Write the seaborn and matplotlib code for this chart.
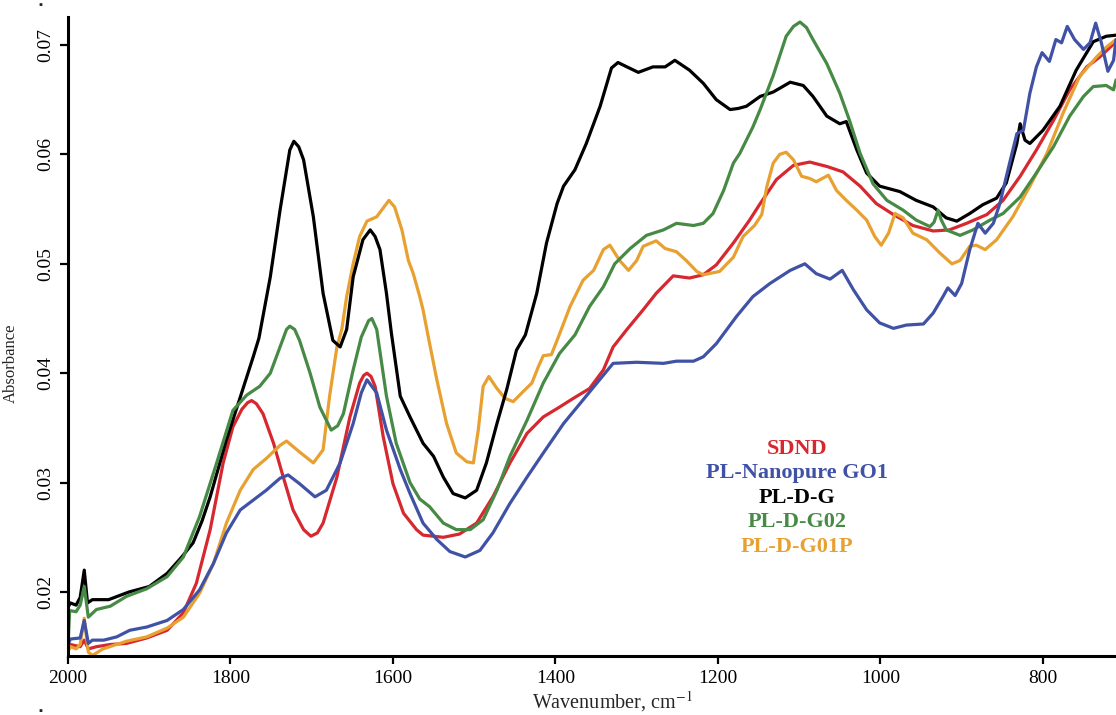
import matplotlib
matplotlib.use("Agg")
import matplotlib.pyplot as plt
import seaborn as sns
import pandas as pd

# ---- data (wavenumber cm^-1, absorbance) ----
SDND = [(2000, 0.0150), (1997, 0.0152), (1985, 0.0150), (1980, 0.0156), (1975, 0.0148),
        (1965, 0.0150), (1948, 0.0152), (1928, 0.0153), (1903, 0.0158), (1878, 0.0165),
        (1858, 0.0181), (1842, 0.0208), (1825, 0.0257), (1809, 0.0318), (1797, 0.0351),
        (1786, 0.0367), (1779, 0.0373), (1774, 0.0375), (1768, 0.0372), (1760, 0.0363),
        (1747, 0.0336), (1735, 0.0305), (1723, 0.0275), (1710, 0.0257), (1701, 0.0251),
        (1693, 0.0254), (1686, 0.0263), (1669, 0.0305), (1653, 0.0360), (1641, 0.0391),
        (1636, 0.0398), (1632, 0.0400), (1627, 0.0397), (1622, 0.0388), (1612, 0.0342),
        (1600, 0.0299), (1587, 0.0272), (1571, 0.0257), (1563, 0.0252), (1538, 0.0250),
        (1518, 0.0253), (1497, 0.0263), (1477, 0.0287), (1456, 0.0318), (1435, 0.0345),
        (1415, 0.0360), (1395, 0.0369), (1378, 0.0377), (1358, 0.0386), (1341, 0.0403),
        (1329, 0.0424), (1312, 0.0440), (1292, 0.0458), (1276, 0.0473), (1255, 0.0489),
        (1235, 0.0487), (1218, 0.0490), (1202, 0.0499), (1181, 0.0519), (1161, 0.0540),
        (1148, 0.0555), (1128, 0.0577), (1107, 0.0590), (1087, 0.0593), (1066, 0.0589),
        (1046, 0.0584), (1025, 0.0571), (1005, 0.0555), (984, 0.0545), (960, 0.0535),
        (935, 0.0530), (915, 0.0531), (894, 0.0537), (869, 0.0545), (849, 0.0558),
        (828, 0.0580), (808, 0.0604), (787, 0.0631), (767, 0.0659), (746, 0.0680),
        (730, 0.0689), (710, 0.0703)]

NANOPURE_GO1 = [(2000, 0.0152), (1997, 0.0157), (1985, 0.0158), (1980, 0.0174), (1975, 0.0153),
                (1970, 0.0156), (1956, 0.0156), (1940, 0.0159), (1924, 0.0165), (1903, 0.0168),
                (1878, 0.0174), (1858, 0.0184), (1838, 0.0202), (1821, 0.0226), (1805, 0.0254),
                (1788, 0.0275), (1772, 0.0284), (1756, 0.0293), (1739, 0.0304), (1729, 0.0307),
                (1715, 0.0299), (1696, 0.0287), (1682, 0.0293), (1665, 0.0318), (1649, 0.0354),
                (1639, 0.0382), (1632, 0.0394), (1620, 0.0382), (1608, 0.0348), (1591, 0.0312),
                (1579, 0.0290), (1563, 0.0263), (1546, 0.0248), (1530, 0.0237), (1511, 0.0232),
                (1493, 0.0238), (1477, 0.0254), (1456, 0.0281), (1435, 0.0305), (1415, 0.0327),
                (1390, 0.0354), (1370, 0.0372), (1349, 0.0391), (1329, 0.0409), (1300, 0.0410),
                (1267, 0.0409), (1251, 0.0411), (1230, 0.0411), (1218, 0.0415), (1202, 0.0427),
                (1189, 0.0440), (1177, 0.0452), (1157, 0.0470), (1136, 0.0482), (1111, 0.0494),
                (1093, 0.0500), (1079, 0.0491), (1062, 0.0486), (1047, 0.0494), (1033, 0.0476),
                (1017, 0.0458), (1001, 0.0446), (984, 0.0441), (968, 0.0444), (947, 0.0445),
                (935, 0.0455), (923, 0.0470), (917, 0.0478), (908, 0.0471), (900, 0.0482),
                (890, 0.0513), (880, 0.0537), (871, 0.0528), (861, 0.0537), (853, 0.0555),
                (841, 0.0592), (832, 0.0619), (824, 0.0622), (816, 0.0656), (808, 0.0680),
                (801, 0.0693), (792, 0.0685), (784, 0.0705), (777, 0.0702), (770, 0.0717),
                (761, 0.0705), (750, 0.0696), (742, 0.0702), (735, 0.0720), (728, 0.0702),
                (720, 0.0676), (713, 0.0686), (710, 0.0705)]

PL_D_G = [(2000, 0.0186), (1997, 0.0190), (1990, 0.0188), (1985, 0.0195), (1980, 0.0220),
          (1976, 0.0190), (1970, 0.0193), (1950, 0.0193), (1925, 0.0200), (1900, 0.0205),
          (1878, 0.0217), (1860, 0.0232), (1846, 0.0245), (1835, 0.0265), (1825, 0.0287),
          (1805, 0.0339), (1788, 0.0378), (1772, 0.0415), (1765, 0.0432), (1751, 0.0488),
          (1739, 0.0549), (1727, 0.0604), (1722, 0.0612), (1716, 0.0607), (1710, 0.0595),
          (1698, 0.0543), (1686, 0.0473), (1674, 0.0430), (1665, 0.0424), (1657, 0.0440),
          (1649, 0.0488), (1637, 0.0522), (1628, 0.0531), (1622, 0.0525), (1616, 0.0513),
          (1608, 0.0473), (1602, 0.0437), (1591, 0.0379), (1579, 0.0360), (1563, 0.0336),
          (1550, 0.0324), (1538, 0.0305), (1526, 0.0290), (1511, 0.0286), (1497, 0.0293),
          (1485, 0.0318), (1472, 0.0354), (1460, 0.0385), (1448, 0.0421), (1437, 0.0435),
          (1423, 0.0473), (1411, 0.0519), (1398, 0.0555), (1390, 0.0571), (1376, 0.0586),
          (1362, 0.0610), (1345, 0.0644), (1331, 0.0679), (1323, 0.0684), (1312, 0.0680),
          (1298, 0.0675), (1280, 0.0680), (1265, 0.0680), (1253, 0.0686), (1235, 0.0677),
          (1218, 0.0665), (1202, 0.0650), (1185, 0.0641), (1175, 0.0642), (1165, 0.0644),
          (1148, 0.0653), (1132, 0.0657), (1111, 0.0666), (1095, 0.0663), (1083, 0.0653),
          (1066, 0.0635), (1050, 0.0628), (1042, 0.0630), (1029, 0.0604), (1017, 0.0583),
          (1001, 0.0571), (976, 0.0566), (956, 0.0558), (935, 0.0552), (919, 0.0542),
          (906, 0.0539), (890, 0.0546), (874, 0.0554), (857, 0.0560), (845, 0.0574),
          (832, 0.0610), (828, 0.0628), (822, 0.0613), (816, 0.0610), (800, 0.0622),
          (779, 0.0644), (759, 0.0677), (738, 0.0703), (722, 0.0708), (710, 0.0709)]

PL_D_G02 = [(2000, 0.0150), (1998, 0.0183), (1990, 0.0182), (1985, 0.0188), (1980, 0.0205),
            (1975, 0.0177), (1965, 0.0184), (1948, 0.0187), (1928, 0.0196), (1903, 0.0203),
            (1878, 0.0214), (1858, 0.0232), (1838, 0.0269), (1817, 0.0318), (1797, 0.0366),
            (1780, 0.0380), (1764, 0.0388), (1751, 0.0400), (1739, 0.0424), (1731, 0.0440),
            (1727, 0.0443), (1721, 0.0440), (1715, 0.0430), (1702, 0.0400), (1690, 0.0369),
            (1676, 0.0348), (1668, 0.0352), (1661, 0.0363), (1649, 0.0403), (1639, 0.0433),
            (1630, 0.0448), (1626, 0.0450), (1620, 0.0440), (1608, 0.0379), (1596, 0.0336),
            (1579, 0.0300), (1567, 0.0285), (1555, 0.0278), (1538, 0.0263), (1522, 0.0257),
            (1505, 0.0257), (1489, 0.0266), (1472, 0.0293), (1456, 0.0324), (1435, 0.0357),
            (1415, 0.0391), (1395, 0.0418), (1376, 0.0435), (1358, 0.0461), (1341, 0.0479),
            (1327, 0.0500), (1308, 0.0514), (1288, 0.0526), (1267, 0.0531), (1251, 0.0537),
            (1230, 0.0535), (1218, 0.0537), (1206, 0.0546), (1193, 0.0567), (1181, 0.0592),
            (1173, 0.0601), (1157, 0.0625), (1148, 0.0641), (1132, 0.0672), (1116, 0.0708),
            (1107, 0.0717), (1099, 0.0721), (1091, 0.0716), (1083, 0.0705), (1066, 0.0683),
            (1050, 0.0656), (1038, 0.0631), (1025, 0.0601), (1009, 0.0573), (992, 0.0558),
            (972, 0.0549), (956, 0.0540), (939, 0.0534), (934, 0.0538), (929, 0.0549),
            (925, 0.0540), (919, 0.0531), (902, 0.0526), (886, 0.0531), (865, 0.0540),
            (849, 0.0546), (828, 0.0561), (808, 0.0583), (787, 0.0607), (767, 0.0635),
            (750, 0.0653), (738, 0.0662), (722, 0.0663), (713, 0.0659), (710, 0.0668)]

PL_D_G01P = [(2000, 0.0146), (1997, 0.0150), (1990, 0.0148), (1985, 0.0152), (1980, 0.0176),
             (1975, 0.0145), (1970, 0.0142), (1957, 0.0148), (1928, 0.0155), (1903, 0.0159),
             (1878, 0.0167), (1858, 0.0177), (1838, 0.0199), (1821, 0.0226), (1805, 0.0263),
             (1788, 0.0293), (1772, 0.0312), (1756, 0.0322), (1739, 0.0334), (1731, 0.0338),
             (1715, 0.0328), (1698, 0.0318), (1686, 0.0330), (1678, 0.0379), (1669, 0.0424),
             (1663, 0.0440), (1657, 0.0470), (1649, 0.0500), (1641, 0.0525), (1632, 0.0539),
             (1620, 0.0543), (1612, 0.0551), (1605, 0.0558), (1598, 0.0552), (1589, 0.0531),
             (1581, 0.0503), (1575, 0.0491), (1567, 0.0470), (1563, 0.0458), (1557, 0.0435),
             (1546, 0.0394), (1534, 0.0354), (1522, 0.0327), (1509, 0.0319), (1501, 0.0318),
             (1495, 0.0348), (1489, 0.0388), (1482, 0.0397), (1472, 0.0386), (1462, 0.0377),
             (1452, 0.0374), (1440, 0.0383), (1429, 0.0391), (1421, 0.0406), (1415, 0.0416),
             (1405, 0.0417), (1398, 0.0430), (1382, 0.0461), (1366, 0.0485), (1353, 0.0494),
             (1341, 0.0513), (1333, 0.0517), (1321, 0.0503), (1310, 0.0494), (1300, 0.0503),
             (1292, 0.0516), (1276, 0.0521), (1265, 0.0514), (1251, 0.0511), (1239, 0.0503),
             (1226, 0.0493), (1218, 0.0490), (1198, 0.0493), (1181, 0.0506), (1169, 0.0525),
             (1155, 0.0535), (1146, 0.0545), (1140, 0.0570), (1132, 0.0592), (1124, 0.0600),
             (1116, 0.0602), (1107, 0.0595), (1097, 0.0580), (1087, 0.0578), (1079, 0.0575),
             (1064, 0.0581), (1054, 0.0567), (1042, 0.0558), (1029, 0.0549), (1017, 0.0540),
             (1007, 0.0525), (999, 0.0517), (990, 0.0528), (982, 0.0546), (972, 0.0542),
             (960, 0.0528), (943, 0.0522), (927, 0.0510), (912, 0.0500), (902, 0.0503),
             (890, 0.0516), (882, 0.0517), (871, 0.0513), (857, 0.0522), (837, 0.0543),
             (816, 0.0571), (795, 0.0601), (775, 0.0638), (755, 0.0671), (734, 0.0689),
             (722, 0.0698), (710, 0.0705)]

series_names = ["SDND", "PL-Nanopure GO1", "PL-D-G", "PL-D-G02", "PL-D-G01P"]
series_data = [SDND, NANOPURE_GO1, PL_D_G, PL_D_G02, PL_D_G01P]
series_colors = ["#d7282f", "#4052a6", "#000000", "#478a45", "#e8a031"]
draw_order = ["SDND", "PL-D-G01P", "PL-D-G", "PL-D-G02", "PL-Nanopure GO1"]

x_ticks = [2000, 1800, 1600, 1400, 1200, 1000, 800]
y_ticks = [0.02, 0.03, 0.04, 0.05, 0.06, 0.07]
y_tick_labels = ["0.02", "0.03", "0.04", "0.05", "0.06", "0.07"]

# ---- build long table ----
rows = []
for name, pts in zip(series_names, series_data):
    for wn, a in pts:
        rows.append({"wn": wn, "abs": a, "sample": name})
df = pd.DataFrame(rows)
palette = dict(zip(series_names, series_colors))

sns.set_style("ticks")
plt.rcParams["font.family"] = ["Liberation Serif", "DejaVu Serif"]
plt.rcParams["mathtext.fontset"] = "stix"

fig = plt.figure(figsize=(11.16, 7.15), dpi=100)
ax = fig.add_axes([68 / 1116, 59 / 715, 1048 / 1116, 639 / 715])

for name in draw_order:
    sub = df[df["sample"] == name]
    sns.lineplot(data=sub, x="wn", y="abs", color=palette[name], sort=False,
                 estimator=None, linewidth=2.3, ax=ax, legend=False)

ax.set_xlim(2000, 710)
ax.set_ylim(0.01415, 0.07256)
ax.set_xticks(x_ticks)
ax.set_xticklabels([str(t) for t in x_ticks], fontsize=14)
ax.set_yticks(y_ticks)
ax.set_yticklabels(y_tick_labels, fontsize=14, rotation=90, va="center")
ax.tick_params(direction="out", length=6, width=1.6, pad=4, colors="black")
for side in ["top", "right"]:
    ax.spines[side].set_visible(False)
for side in ["left", "bottom"]:
    ax.spines[side].set_linewidth(2.2)
    ax.spines[side].set_color("black")

ax.set_xlabel("Wavenumber, cm$^{-1}$", fontsize=14.5)
ax.xaxis.set_label_coords(0.519, -0.052)
ax.set_ylabel("Absorbance", fontsize=12)
ax.yaxis.set_label_coords(-0.047, 0.458)

# coloured-text legend
for i, (name, col) in enumerate(zip(series_names, series_colors)):
    ax.text(0.6956, 0.324 - i * 0.0383, name, transform=ax.transAxes, color=col,
            fontsize=16, fontweight="bold", ha="center", va="center")

# small corner marks present in the reference image
fig.text(40 / 1116, 1 - 6 / 715, "\u25aa", fontsize=8, ha="center", va="center")
fig.text(40 / 1116, 1 - 711 / 715, "\u25aa", fontsize=8, ha="center", va="center")

fig.savefig("out.png", dpi=100)
